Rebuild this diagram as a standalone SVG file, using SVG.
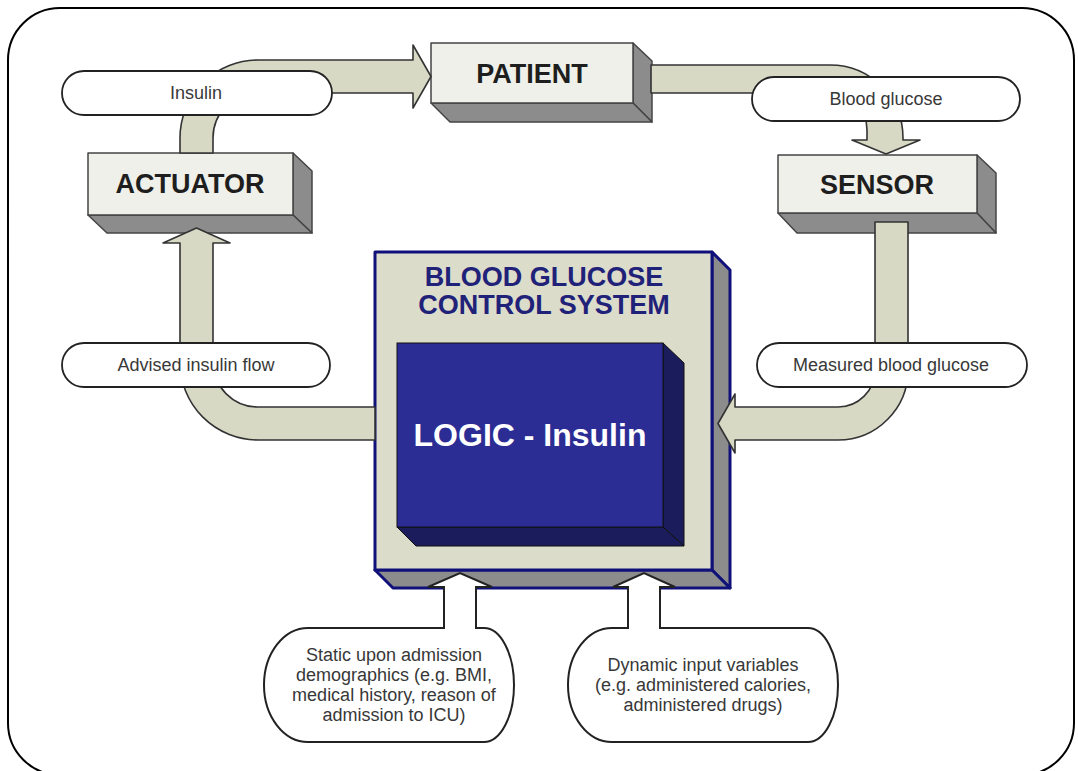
<svg xmlns="http://www.w3.org/2000/svg" width="1078" height="771" viewBox="0 0 1078 771">
<style>
.frame{fill:#fff;stroke:#000;stroke-width:2}
.front{fill:#eff0e9;stroke:#444;stroke-width:1.5;stroke-linejoin:round}
.side{fill:#8c8c8c;stroke:#444;stroke-width:1.5;stroke-linejoin:round}
.tube{fill:#d7d9c4;stroke:#333;stroke-width:1.6;stroke-linejoin:round}
.pill{fill:#fff;stroke:#222;stroke-width:1.8}
.callout{fill:#fff;stroke:#222;stroke-width:2;stroke-linejoin:miter}
.big{font-family:"Liberation Sans",Arial,sans-serif;font-weight:bold;font-size:27px;fill:#1e1e1e;text-anchor:middle}
.lbl{font-family:"Liberation Sans",Arial,sans-serif;font-size:18px;fill:#383838;text-anchor:middle}
.sysface{fill:#dcdccb;stroke:#10107a;stroke-width:3;stroke-linejoin:round}
.sysside{fill:#8c8c8c;stroke:#10107a;stroke-width:3;stroke-linejoin:round}
.title{font-family:"Liberation Sans",Arial,sans-serif;font-weight:bold;font-size:27px;fill:#1f2278;text-anchor:middle}
.logicface{fill:#2b2d95;stroke:#111;stroke-width:1}
.logicside{fill:#1b1c5c;stroke:#111;stroke-width:1}
.logic{font-family:"Liberation Sans",Arial,sans-serif;font-weight:bold;font-size:32px;fill:#fff;text-anchor:middle}
</style>
<rect class="frame" x="8" y="8" width="1066" height="767" rx="52" ry="52"/>

<g id="system">
<polygon class="sysside" points="712,252 730,270 730,588 712,570"/>
<polygon class="sysside" points="375,570 712,570 730,588 393,588"/>
<rect class="sysface" x="375" y="252" width="337" height="318"/>
<text class="title" x="544" y="286">BLOOD GLUCOSE</text>
<text class="title" x="544" y="314">CONTROL SYSTEM</text>
</g>

<g id="logic">
<polygon class="logicside" points="663,343 684,363 684,546 663,527"/>
<polygon class="logicside" points="397,527 663,527 684,546 416,546"/>
<rect class="logicface" x="397" y="343" width="266" height="184"/>
<text class="logic" x="530" y="446">LOGIC - Insulin</text>
</g>

<g id="actuator">
<polygon class="side" points="293,153 312,171 312,233 293,215"/>
<polygon class="side" points="88,215 293,215 312,233 107,233"/>
<rect class="front" x="88" y="153" width="205" height="62"/>
<text class="big" x="190" y="193">ACTUATOR</text>
</g>

<g id="patient">
<polygon class="side" points="633,43 652,61 652,122 633,103"/>
<polygon class="side" points="431,103 633,103 652,122 450,122"/>
<rect class="front" x="431" y="43" width="202" height="60"/>
<text class="big" x="532" y="83">PATIENT</text>
</g>

<g id="sensor">
<polygon class="side" points="977,155 996,173 996,233 977,213"/>
<polygon class="side" points="778,213 977,213 996,233 797,233"/>
<rect class="front" x="778" y="155" width="199" height="58"/>
<text class="big" x="877" y="194">SENSOR</text>
</g>

<g id="connectors">
<path class="tube" d="M180,153 L180,138 A78,78 0 0 1 258,60 L413,60 L413,45 L431,76.5 L413,108 L413,93 L258,93 A45,45 0 0 0 213,138 L213,153 Z"/>
<path class="tube" d="M651,65 L830,65 A73,73 0 0 1 903,138 L903,140 L920,140 L886,154 L852,140 L867,140 L867,130 C867,108 850,93 822,93 L651,93 Z"/>
<path class="tube" d="M875,222 L908,222 L908,370 A70,70 0 0 1 838,440 L735,440 L735,453 L718,423.5 L735,394 L735,407 L838,407 A37,37 0 0 0 875,370 Z"/>
<path class="tube" d="M375,407 L258,407 A45,45 0 0 1 213,362 L213,243 L230,243 L196.5,228 L163,243 L180,243 L180,362 A78,78 0 0 0 258,440 L375,440 Z"/>
</g>

<g id="insulin">
<rect class="pill" x="62" y="71" width="270" height="44" rx="22" ry="22"/>
<text class="lbl" x="196" y="99">Insulin</text>
</g>
<g id="blood-glucose">
<rect class="pill" x="752" y="77" width="268" height="44" rx="22" ry="22"/>
<text class="lbl" x="886" y="105">Blood glucose</text>
</g>
<g id="advised">
<rect class="pill" x="62" y="343" width="268" height="44" rx="22" ry="22"/>
<text class="lbl" x="196" y="371">Advised insulin flow</text>
</g>
<g id="measured">
<rect class="pill" x="757" y="343" width="270" height="44" rx="22" ry="22"/>
<text class="lbl" x="891" y="371">Measured blood glucose</text>
</g>

<g id="static-input">
<path class="callout" d="M308,628 L444,628 L444,587 L428,587 L460,573 L492,587 L476,587 L476,628 L484,628 A30,57 0 0 1 514,685 A30,57 0 0 1 484,742 L308,742 A44,57 0 0 1 264,685 A44,57 0 0 1 308,628 Z"/>
<text class="lbl" x="394" y="661">Static upon admission</text>
<text class="lbl" x="394" y="681">demographics (e.g. BMI,</text>
<text class="lbl" x="394" y="701">medical history, reason of</text>
<text class="lbl" x="394" y="721">admission to ICU)</text>
</g>

<g id="dynamic-input">
<path class="callout" d="M612,628 L628,628 L628,587 L613,587 L644,573 L675,587 L660,587 L660,628 L808,628 A30,57 0 0 1 838,685 A30,57 0 0 1 808,742 L612,742 A44,57 0 0 1 568,685 A44,57 0 0 1 612,628 Z"/>
<text class="lbl" x="703" y="671">Dynamic input variables</text>
<text class="lbl" x="703" y="691">(e.g. administered calories,</text>
<text class="lbl" x="703" y="711">administered drugs)</text>
</g>
</svg>
